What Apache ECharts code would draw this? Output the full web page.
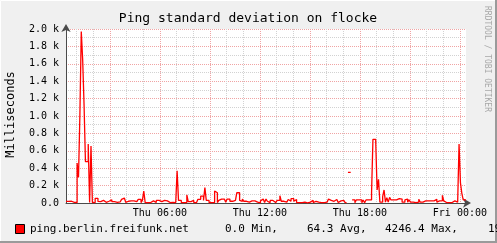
<!DOCTYPE html>
<html><head><meta charset="utf-8">
<script src="https://cdn.jsdelivr.net/npm/echarts@6/dist/echarts.min.js"></script>
<style>html,body{margin:0;padding:0;background:#f0f0f0}#c{width:497px;height:243px}</style>
</head><body><div id="c"></div>
<script>
// time in hours since Thu 00:00, 5-minute samples
const START_HOUR = 22 / 60;
const STEP_HOUR = 5 / 60;
const gridHours = [1,2,3,4,5,6,7,8,9,10,11,12,13,14,15,16,17,18,19,20,21,22,23,24];
const labelHours = [6, 12, 18, 24];
const labelTexts = ['Thu 06:00', 'Thu 12:00', 'Thu 18:00', 'Fri 00:00'];
const yMax = 2000;
const yStep = 200;
const titleText = 'Ping standard deviation on flocke';
const yTitle = 'Milliseconds';
const seriesName = 'ping.berlin.freifunk.net';
const legendStats = ['0.0 Min,', '64.3 Avg,', '4246.4 Max,', '19'];
const creditText = 'RRDTOOL / TOBI OETIKER';

// ping standard deviation (ms), one row per hour, 12 samples each
const pingStdDev = [
  18, 18, 15, 20, 25, 8, 8, 6, 460, 295, 1010, 1970,
  1650, 1130, 475, 475, 678, 5, 655, 5, 5, 54, 54, 18,
  15, 35, 30, 34, 8, 6, 20, 42, 38, 15, 15, 5,
  8, 5, 12, 5, 42, 57, 57, 8, 20, 25, 25, 25,
  25, 28, 15, 15, 42, 42, 5, 30, 138, 5, 5, 5,
  5, 25, 25, 5, 5, 30, 30, 15, 15, 30, 30, 25,
  25, 5, 5, 5, 8, 5, 5, 5, 371, 30, 30, 5,
  5, 8, 5, 92, 15, 15, 30, 30, 5, 5, 5, 42,
  42, 80, 80, 30, 176, 30, 30, 5, 5, 5, 5, 138,
  118, 5, 30, 45, 45, 45, 50, 10, 45, 45, 20, 20,
  30, 30, 15, 118, 118, 30, 20, 45, 20, 20, 20, 10,
  10, 25, 25, 25, 10, 10, 2, 2, 25, 45, 45, 5,
  45, 20, 5, 30, 30, 10, 5, 5, 30, 30, 84, 20,
  20, 10, 10, 10, 40, 20, 50, 50, 20, 40, 5, 5,
  5, 5, 10, 10, 2, 2, 10, 10, 30, 30, 5, 20,
  20, 10, 5, 5, 5, 5, 5, 10, 10, 45, 30, 30,
  20, 20, 40, 40, 5, 25, 30, 30, 30, 5, null, 353,
  353, null, 35, 35, 3, 35, 35, 15, 35, 3, 35, 3,
  35, 35, 35, 35, 118, 732, 732, 705, 150, 272, 10, 10,
  73, 150, 10, 60, 10, 65, 35, 35, 45, 35, 35, 50,
  35, 45, 10, 10, 35, 45, 10, 35, 10, 10, 10, 3,
  10, 10, 42, 10, 10, 25, 25, 25, 25, 42, 25, 25,
  25, 42, 42, 10, 25, 25, 25, 88, 25, 5, 5, 5,
  5, 5, 25, 25, 25, 10, 25, 678, 233, 111, 35, 35
];

const seriesData = pingStdDev.map((v, i) => [START_HOUR + i * STEP_HOUR, v]);
seriesData.push([START_HOUR + 24, pingStdDev[pingStdDev.length - 1]]);

const MONO = 'DejaVu Sans Mono';
const GRID_MINOR = '#d2d2d2';
const GRID_MAJOR = '#f0a4a4';

const chart = echarts.init(document.getElementById('c'), null, {renderer: 'canvas'});
chart.setOption({
  animation: false,
  backgroundColor: '#f0f0f0',
  grid: {left: 66, right: 31, top: 29, bottom: 40, show: true, backgroundColor: '#ffffff', borderWidth: 0},
  xAxis: {
    type: 'value', min: START_HOUR, max: START_HOUR + 24,
    axisLine: {show: true, onZero: false, lineStyle: {color: '#4a4a4a', width: 1},
      symbol: ['none', 'arrow'], symbolSize: [7, 8], symbolOffset: [0, 5]},
    axisTick: {show: false, customValues: gridHours},
    axisLabel: {customValues: labelHours, margin: 5, color: '#000', fontFamily: MONO, fontSize: 10,
      formatter: v => labelTexts[labelHours.indexOf(Math.round(v))] || ''},
    splitLine: {show: true, lineStyle: {color: [GRID_MINOR, GRID_MINOR, GRID_MAJOR], type: [1, 1], width: 1}}
  },
  yAxis: {
    type: 'value', min: 0, max: yMax, interval: yStep,
    axisLine: {show: true, lineStyle: {color: '#4a4a4a', width: 1},
      symbol: ['none', 'arrow'], symbolSize: [7, 8], symbolOffset: [0, 5]},
    axisTick: {show: false},
    minorTick: {show: false, splitNumber: 2},
    axisLabel: {margin: 7, color: '#000', fontFamily: MONO, fontSize: 10,
      formatter: v => v === 0 ? '0.0' : (v / 1000).toFixed(1) + ' k'},
    splitLine: {show: true, lineStyle: {color: GRID_MAJOR, type: [1, 1], width: 1}},
    minorSplitLine: {show: true, lineStyle: {color: GRID_MINOR, type: [1, 1], width: 1}}
  },
  series: [{
    name: seriesName, type: 'line', step: 'end', data: seriesData,
    symbol: 'none', showSymbol: false, connectNulls: false,
    lineStyle: {color: '#ff0000', width: 1.3}, z: 5
  }],
  graphic: [
    {type: 'polyline', shape: {points: [[0.5, 242], [0.5, 0.5], [496, 0.5]]}, style: {stroke: '#ffffff', lineWidth: 1, fill: null}, silent: true},
    {type: 'polyline', shape: {points: [[496, 0], [496, 242], [0, 242]]}, style: {stroke: '#9a9a9a', lineWidth: 2, fill: null}, silent: true},
    {type: 'text', x: 248, y: 19, style: {text: titleText, font: '13px "DejaVu Sans Mono"', fill: '#000', align: 'center', verticalAlign: 'middle'}},
    {type: 'text', x: 10.5, y: 114.5, rotation: Math.PI / 2, style: {text: yTitle, font: '12px "DejaVu Sans Mono"', fill: '#000', align: 'center', verticalAlign: 'middle'}},
    {type: 'text', x: 487, y: 59, rotation: -Math.PI / 2, style: {text: creditText, font: '8px "DejaVu Sans Mono"', fill: '#a8a8a8', align: 'center', verticalAlign: 'middle'}},
    {type: 'rect', shape: {x: 15.5, y: 224.5, width: 9, height: 9}, style: {fill: '#ff0000', stroke: '#000', lineWidth: 1}},
    {type: 'text', x: 30, y: 229.5, style: {text: seriesName, font: '11px "DejaVu Sans Mono"', fill: '#000', verticalAlign: 'middle'}},
    {type: 'text', x: 225, y: 229.5, style: {text: legendStats[0], font: '11px "DejaVu Sans Mono"', fill: '#000', verticalAlign: 'middle'}},
    {type: 'text', x: 307, y: 229.5, style: {text: legendStats[1], font: '11px "DejaVu Sans Mono"', fill: '#000', verticalAlign: 'middle'}},
    {type: 'text', x: 385, y: 229.5, style: {text: legendStats[2], font: '11px "DejaVu Sans Mono"', fill: '#000', verticalAlign: 'middle'}},
    {type: 'text', x: 488, y: 229.5, style: {text: legendStats[3], font: '11px "DejaVu Sans Mono"', fill: '#000', verticalAlign: 'middle'}}
  ]
});
</script></body></html>
